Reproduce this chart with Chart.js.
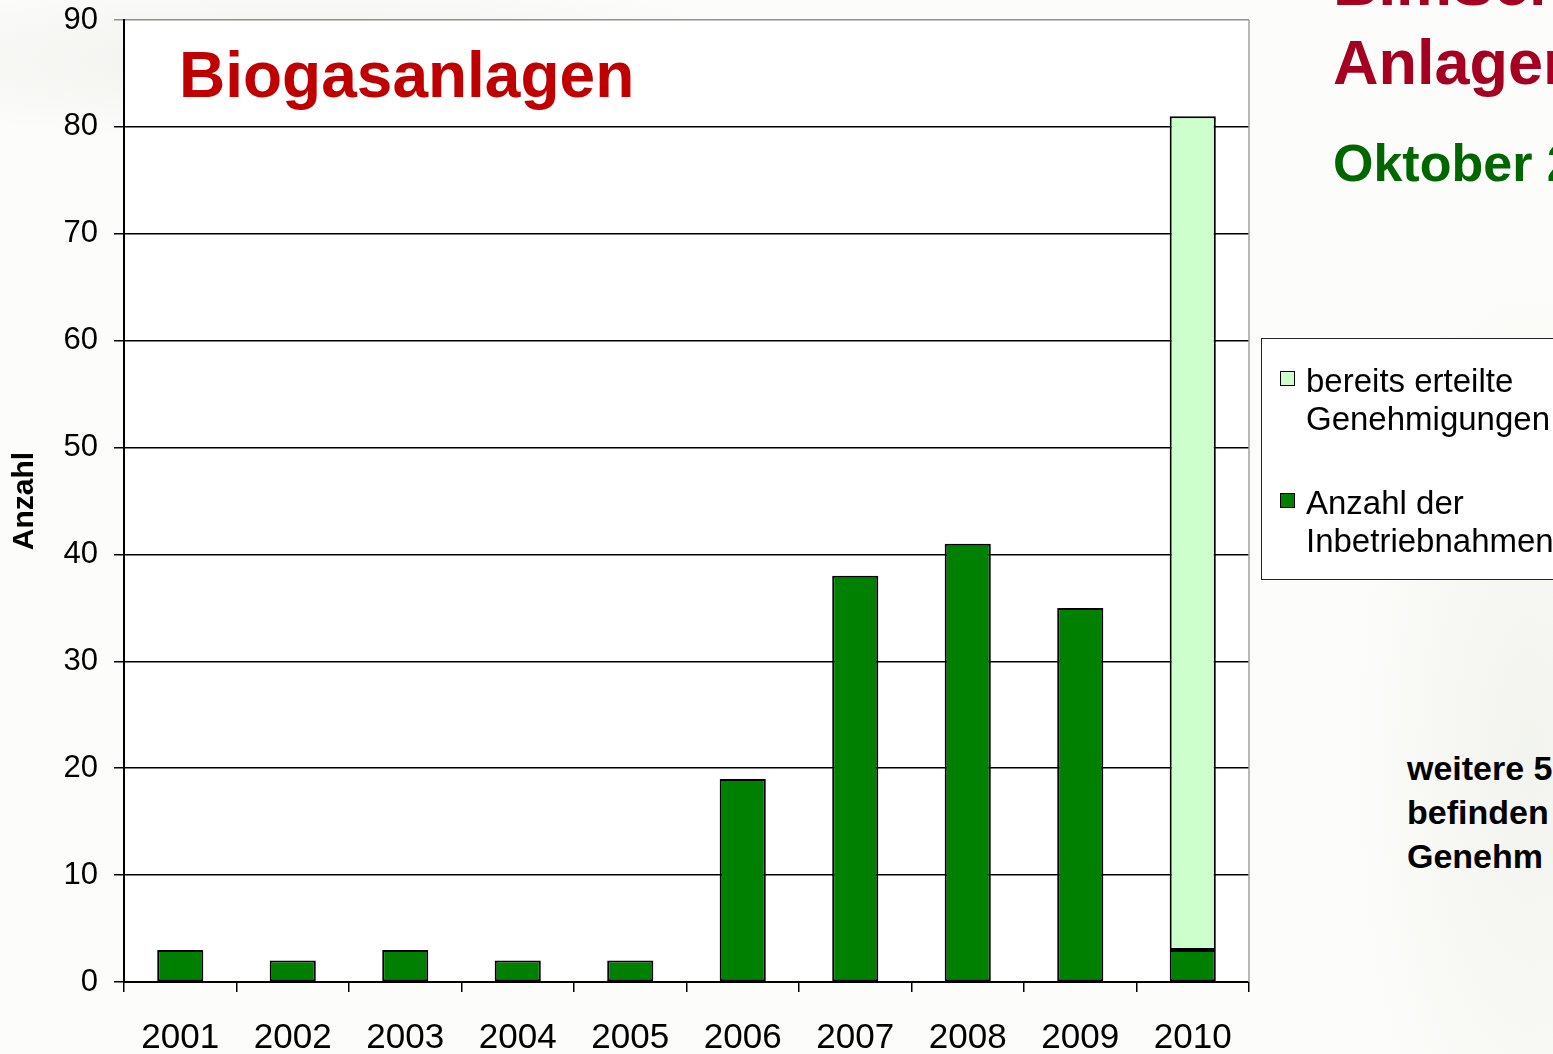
<!DOCTYPE html>
<html>
<head>
<meta charset="utf-8">
<script src="https://cdn.jsdelivr.net/npm/chart.js@4"></script>
<style>
  html, body { margin: 0; padding: 0; width: 1553px; height: 1054px; overflow: hidden; }
  body {
    position: relative;
    background:
      radial-gradient(ellipse 700px 120px at 300px 60px, rgba(225,227,220,0.45), rgba(255,255,255,0) 70%),
      radial-gradient(ellipse 240px 650px at 1530px 760px, rgba(236,238,230,0.6), rgba(255,255,255,0) 75%),
      #fcfcfa;
    font-family: "Liberation Sans", Arial, sans-serif;
  }
  #wrap { position: absolute; left: 0; top: 0; width: 1553px; height: 1054px; }
  .t { position: absolute; white-space: nowrap; font-weight: bold; line-height: 1; }
</style>
</head>
<body>
<div class="t" style="left:1333px; top:-48px; font-size:63px; color:#A50021;">BImSchG-</div>
<div class="t" style="left:1333px; top:31px; font-size:63px; color:#A50021;">Anlagen</div>
<div class="t" style="left:1333px; top:137px; font-size:52px; color:#006600;">Oktober 2010</div>
<div class="t" style="left:1407px; top:746px; font-size:34px; color:#000; line-height:44px;">weitere 5<br>befinden<br>Genehm</div>
<div id="wrap"><canvas id="c" width="1553" height="1054"></canvas></div>
<script>
const categories = ["2001","2002","2003","2004","2005","2006","2007","2008","2009","2010"];
const inbetriebnahmen = [3, 2, 3, 2, 2, 19, 38, 41, 35, 3];
const genehmigungen = [0, 0, 0, 0, 0, 0, 0, 0, 0, 78];
const seriesLabels = ["Anzahl der\nInbetriebnahmen", "bereits erteilte\nGenehmigungen"];
const yTicks = [0, 10, 20, 30, 40, 50, 60, 70, 80, 90];

const FONT = "'Liberation Sans', Arial, sans-serif";

const areaBg = {
  id: 'areaBg',
  beforeDraw(chart) {
    const { ctx, chartArea: a } = chart;
    ctx.save();
    ctx.fillStyle = '#ffffff';
    ctx.fillRect(a.left, a.top, a.right - a.left, a.bottom - a.top);
    ctx.restore();
  },
  afterDraw(chart) {
    const { ctx, chartArea: a } = chart;
    ctx.save();
    ctx.strokeStyle = '#a0a0a0';
    ctx.lineWidth = 1.5;
    ctx.beginPath();
    ctx.moveTo(a.right, a.top);
    ctx.lineTo(a.right, a.bottom);
    ctx.stroke();
    ctx.fillStyle = '#C00000';
    ctx.font = "bold 64px " + FONT;
    ctx.textBaseline = 'alphabetic';
    ctx.fillText('Biogasanlagen', 179, 97);
    const bx = 1261, by = 338, bw = 320, bh = 241;
    ctx.fillStyle = '#ffffff';
    ctx.fillRect(bx, by, bw, bh);
    ctx.strokeStyle = '#222';
    ctx.lineWidth = 1;
    ctx.strokeRect(bx + 0.5, by + 0.5, bw, bh);
    const ds = chart.data.datasets.slice().reverse();
    const rowsY = [369, 491];
    ctx.font = "33px " + FONT;
    ds.forEach((d, i) => {
      const y = rowsY[i];
      ctx.fillStyle = d.backgroundColor;
      ctx.fillRect(1280, y + 2, 14, 14);
      ctx.strokeStyle = '#000';
      ctx.lineWidth = 1;
      ctx.strokeRect(1280.5, y + 2.5, 14, 14);
      ctx.fillStyle = '#000';
      const lines = d.label.split('\n');
      lines.forEach((ln, j) => ctx.fillText(ln, 1306, y + 23 + j * 38));
    });
    ctx.restore();
  }
};

new Chart(document.getElementById('c'), {
  type: 'bar',
  data: {
    labels: categories,
    datasets: [
      { label: seriesLabels[0], data: inbetriebnahmen, backgroundColor: '#008000', borderColor: '#000', borderWidth: 2, borderSkipped: false },
      { label: seriesLabels[1], data: genehmigungen, backgroundColor: '#CCFFCC', borderColor: '#000', borderWidth: 2, borderSkipped: false }
    ]
  },
  options: {
    responsive: false,
    animation: false,
    devicePixelRatio: 1,
    layout: { padding: { top: 20, right: 304, left: 0, bottom: 0 } },
    plugins: { legend: { display: false }, tooltip: { enabled: false } },
    datasets: { bar: { barPercentage: 0.41, categoryPercentage: 1.0 } },
    scales: {
      x: {
        stacked: true,
        offset: true,
        grid: { offset: true, drawOnChartArea: false, drawTicks: true, tickLength: 10, color: '#000', lineWidth: 1.5 },
        border: { display: true, color: '#000', width: 2 },
        ticks: { color: '#000', font: { family: FONT, size: 35 }, padding: 25, maxRotation: 0 },
        afterFit(s) { s.height = 72; s.paddingLeft = 0; s.paddingRight = 0; }
      },
      y: {
        stacked: true,
        min: 0, max: 90,
        afterBuildTicks(s) { s.ticks = yTicks.map(v => ({ value: v })); },
        grid: {
          color: ctx => (ctx.tick && ctx.tick.value === 90) ? '#909090' : '#000',
          lineWidth: 1.5,
          tickLength: 10,
          drawTicks: true
        },
        border: { display: true, color: '#000', width: 2 },
        ticks: { color: '#000', font: { family: FONT, size: 31 }, padding: 16 },
        title: { display: true, text: 'Anzahl', color: '#000', font: { family: FONT, size: 30, weight: 'bold' }, padding: { top: 7, bottom: 0 } },
        afterFit(s) { s.width = 124; s.paddingTop = 0; s.paddingBottom = 0; }
      }
    }
  },
  plugins: [areaBg]
});
</script>
</body>
</html>
